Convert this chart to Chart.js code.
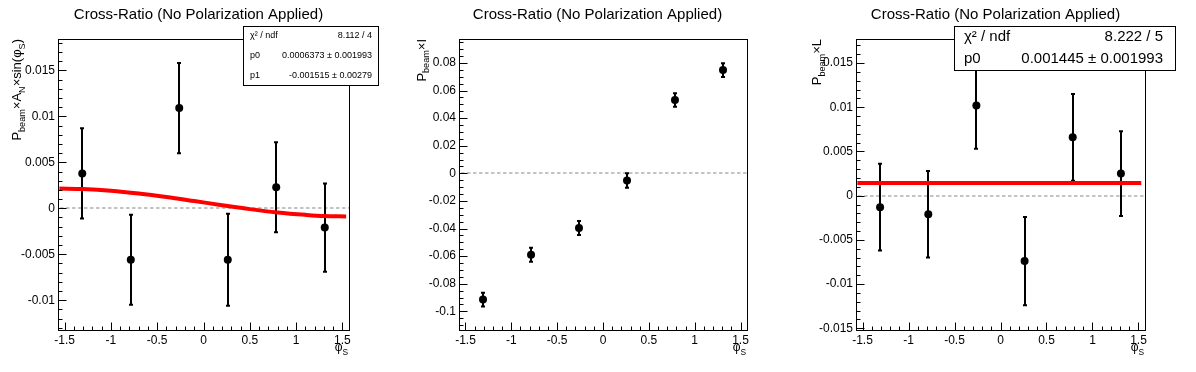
<!DOCTYPE html>
<html>
<head>
<meta charset="utf-8">
<script src="https://cdn.jsdelivr.net/npm/chart.js@4.4.1/dist/chart.umd.min.js"></script>
<style>
  body { margin: 0; background: #fff; }
  #wrap { position: relative; width: 1196px; height: 372px; background: #fff; }
  canvas { position: absolute; top: 0; }
</style>
</head>
<body>
<div id="wrap">
  <canvas id="c1" width="400" height="372" style="left:0"></canvas>
  <canvas id="c2" width="396" height="372" style="left:400px"></canvas>
  <canvas id="c3" width="400" height="372" style="left:796px"></canvas>
</div>
<script>
const FONT = '"Liberation Sans", Arial, sans-serif';

// phi_S bin centres (shared by all three pads)
const phiS = [-1.309, -0.785, -0.262, 0.262, 0.785, 1.309];
const xTicks = [-1.5, -1, -0.5, 0, 0.5, 1, 1.5];
const xTickLabels = ['-1.5', '-1', '-0.5', '0', '0.5', '1', '1.5'];

// pad 1 : P_beam x A_N x sin(phi_S)
const anVals = [0.0038, -0.0056, 0.0109, -0.0056, 0.0023, -0.0021];
const anErrs = [0.0049, 0.0049, 0.0049, 0.0050, 0.0049, 0.0048];
const anFitX = [-1.556, -1.3, -1.0, -0.7, -0.4, -0.1, 0.2, 0.5, 0.8, 1.1, 1.3, 1.54];
const anFitY = [0.00215, 0.00209, 0.00191, 0.00161, 0.00123, 0.00079, 0.00034, -0.00009, -0.00045, -0.00071, -0.00084, -0.00088];
const anYTicks = [-0.01, -0.005, 0, 0.005, 0.01, 0.015];
const anYLabels = ['-0.01', '-0.005', '0', '0.005', '0.01', '0.015'];
const anStats = [['χ² / ndf', '8.112 / 4'], ['p0', '0.0006373 ± 0.001993'], ['p1', '-0.001515 ± 0.00279']];

// pad 2 : P_beam x I
const iVals = [-0.0915, -0.0590, -0.0396, -0.0052, 0.0532, 0.0749];
const iErrs = [0.0050, 0.0050, 0.0050, 0.0052, 0.0049, 0.0050];
const iYTicks = [-0.1, -0.08, -0.06, -0.04, -0.02, 0, 0.02, 0.04, 0.06, 0.08];
const iYLabels = ['-0.1', '-0.08', '-0.06', '-0.04', '-0.02', '0', '0.02', '0.04', '0.06', '0.08'];

// pad 3 : P_beam x L
const lVals = [-0.0013, -0.0021, 0.0102, -0.0074, 0.0066, 0.0025];
const lErrs = [0.0049, 0.0049, 0.0049, 0.0050, 0.0049, 0.0048];
const lFitX = [-1.556, 1.53];
const lFitY = [0.001445, 0.001445];
const lYTicks = [-0.015, -0.01, -0.005, 0, 0.005, 0.01, 0.015];
const lYLabels = ['-0.015', '-0.01', '-0.005', '0', '0.005', '0.01', '0.015'];
const lStats = [['χ² / ndf', '8.222 / 5'], ['p0', '0.001445 ± 0.001993']];

const title = 'Cross-Ratio (No Polarization Applied)';

// draw a string made of normal / subscript pieces, right-aligned at 0
function richWidth(ctx, segs, size) {
  let w = 0;
  segs.forEach(s => {
    ctx.font = (s[1] ? size * 0.7 : size) + 'px ' + FONT;
    w += ctx.measureText(s[0]).width;
  });
  return w;
}
function drawRich(ctx, segs, size) {
  let u = -richWidth(ctx, segs, size);
  segs.forEach(s => {
    ctx.font = (s[1] ? size * 0.7 : size) + 'px ' + FONT;
    ctx.fillText(s[0], u, s[1] ? size * 0.3 : 0);
    u += ctx.measureText(s[0]).width;
  });
}

const padPlugin = {
  id: 'pad',
  beforeDatasetsDraw(chart, args, o) {
    const { ctx, chartArea: a, scales: { x, y } } = chart;
    ctx.save();
    // dashed zero line
    const y0 = Math.round(y.getPixelForValue(0));
    ctx.strokeStyle = '#c4c4c4';
    ctx.lineWidth = 2;
    ctx.setLineDash([3.5, 2.5]);
    ctx.beginPath(); ctx.moveTo(a.left + 2, y0); ctx.lineTo(a.right, y0); ctx.stroke();
    ctx.setLineDash([]);
    // error bars
    ctx.strokeStyle = '#000';
    ctx.lineWidth = 2;
    phiS.forEach((v, i) => {
      const px = Math.round(x.getPixelForValue(v));
      const top = y.getPixelForValue(o.vals[i] + o.errs[i]);
      const bot = y.getPixelForValue(o.vals[i] - o.errs[i]);
      ctx.beginPath();
      ctx.moveTo(px, top); ctx.lineTo(px, bot);
      ctx.moveTo(px - 2, top); ctx.lineTo(px + 2, top);
      ctx.moveTo(px - 2, bot); ctx.lineTo(px + 2, bot);
      ctx.stroke();
    });
    ctx.restore();
  },
  afterDraw(chart, args, o) {
    const { ctx, chartArea: a, scales: { x, y } } = chart;
    ctx.save();
    ctx.strokeStyle = '#000';
    ctx.fillStyle = '#000';
    // frame
    ctx.lineWidth = 1;
    ctx.strokeRect(Math.round(a.left) + 0.5, Math.round(a.top) + 0.5,
      Math.round(a.right - a.left), Math.round(a.bottom - a.top));
    // ticks (inside frame, bottom + left only)
    const bY = Math.round(a.bottom) + 0.5, lX = Math.round(a.left) + 0.5;
    ctx.beginPath();
    for (let k = Math.ceil(x.min / 0.1 - 1e-6); k * 0.1 <= x.max; k++) {
      const px = Math.round(x.getPixelForValue(k * 0.1)) + 0.5;
      const len = (k % 5 === 0) ? 8 : 4;
      ctx.moveTo(px, bY); ctx.lineTo(px, bY - len);
    }
    const st = o.minor;
    for (let k = Math.ceil(y.min / st - 1e-6); k * st <= y.max; k++) {
      const py = Math.round(y.getPixelForValue(k * st)) + 0.5;
      const len = (k % o.ndiv === 0) ? 8 : 4;
      ctx.moveTo(lX, py); ctx.lineTo(lX + len, py);
    }
    ctx.stroke();
    // title
    ctx.font = '15px ' + FONT;
    ctx.textAlign = 'center';
    ctx.textBaseline = 'alphabetic';
    ctx.fillText(title, o.titleX, 19);
    // x axis title
    ctx.textAlign = 'left';
    ctx.save();
    ctx.translate(a.right - 1, 351);
    drawRich(ctx, [['φ'], ['S', 1]], 12);
    ctx.restore();
    // y axis title
    ctx.save();
    ctx.translate(o.yTitleX, a.top);
    ctx.rotate(-Math.PI / 2);
    drawRich(ctx, o.yTitle, 13);
    ctx.restore();
    // stats box
    if (o.stats) {
      const [bx0, by0, bx1, by1] = o.box;
      ctx.fillStyle = '#fff';
      ctx.fillRect(bx0, by0, bx1 - bx0, by1 - by0);
      ctx.strokeRect(bx0 + 0.5, by0 + 0.5, bx1 - bx0, by1 - by0);
      ctx.fillStyle = '#000';
      ctx.font = o.boxFont + 'px ' + FONT;
      ctx.textBaseline = 'middle';
      const rh = (by1 - by0) / o.stats.length;
      o.stats.forEach((r, i) => {
        const cy = by0 + rh * (i + 0.5);
        ctx.textAlign = 'left';
        ctx.fillText(r[0], bx0 + o.boxPad[0], cy);
        ctx.textAlign = 'right';
        ctx.fillText(r[1], bx1 - o.boxPad[1], cy);
      });
    }
    ctx.restore();
  }
};

function makePad(id, cfg) {
  const el = document.getElementById(id);
  const W = el.width;
  const datasets = [{
    data: phiS.map((v, i) => ({ x: v, y: cfg.vals[i] })),
    backgroundColor: '#000',
    borderColor: '#000',
    borderWidth: 0,
    pointRadius: 4,
    order: 1
  }];
  if (cfg.fitX) {
    datasets.push({
      type: 'line',
      data: cfg.fitX.map((v, i) => ({ x: v, y: cfg.fitY[i] })),
      borderColor: '#ff0000',
      borderWidth: 4,
      pointRadius: 0,
      tension: 0.4,
      cubicInterpolationMode: 'monotone',
      order: 0
    });
  }
  const tickFont = { family: FONT, size: 12 };
  return new Chart(el, {
    type: 'scatter',
    data: { datasets },
    options: {
      responsive: false,
      animation: false,
      devicePixelRatio: 1,
      layout: { padding: { left: 0, top: cfg.frame[1], right: W - cfg.frame[2], bottom: 0 } },
      plugins: { legend: { display: false }, tooltip: { enabled: false }, pad: cfg },
      scales: {
        x: {
          type: 'linear', min: -1.5708, max: 1.5708,
          grid: { display: false, drawTicks: false }, border: { display: false },
          afterBuildTicks: s => { s.ticks = xTicks.map(v => ({ value: v })); },
          afterFit: s => { s.height = 372 - cfg.frame[3]; },
          ticks: { padding: 3, color: '#000', font: tickFont, maxRotation: 0, autoSkip: false,
            callback: (v, i) => xTickLabels[i] }
        },
        y: {
          type: 'linear', min: cfg.yRange[0], max: cfg.yRange[1],
          grid: { display: false, drawTicks: false }, border: { display: false },
          afterBuildTicks: s => { s.ticks = cfg.yTicks.map(v => ({ value: v })); },
          afterFit: s => { s.width = cfg.frame[0]; },
          ticks: { padding: 3, color: '#000', font: tickFont, autoSkip: false,
            callback: (v, i) => cfg.yLabels[i] }
        }
      }
    },
    plugins: [padPlugin]
  });
}

makePad('c1', {
  frame: [58, 39, 349, 330], yRange: [-0.01324, 0.01842],
  vals: anVals, errs: anErrs, fitX: anFitX, fitY: anFitY,
  yTicks: anYTicks, yLabels: anYLabels, minor: 0.001, ndiv: 5,
  titleX: 198.5, yTitleX: 21,
  yTitle: [['P'], ['beam', 1], ['×A'], ['N', 1], ['×sin(φ'], ['S', 1], [')']],
  stats: anStats, box: [243, 26, 378, 85], boxFont: 9, boxPad: [7, 6]
});

makePad('c2', {
  frame: [59, 39, 347, 330], yRange: [-0.11355, 0.0974],
  vals: iVals, errs: iErrs,
  yTicks: iYTicks, yLabels: iYLabels, minor: 0.005, ndiv: 4,
  titleX: 197.5, yTitleX: 25.5,
  yTitle: [['P'], ['beam', 1], ['×I']]
});

makePad('c3', {
  frame: [60, 39, 349, 330], yRange: [-0.01519, 0.01772],
  vals: lVals, errs: lErrs, fitX: lFitX, fitY: lFitY,
  yTicks: lYTicks, yLabels: lYLabels, minor: 0.001, ndiv: 5,
  titleX: 199.5, yTitleX: 25,
  yTitle: [['P'], ['beam', 1], ['×L']],
  stats: lStats, box: [158, 26, 379, 70], boxFont: 15, boxPad: [10, 12]
});
</script>
</body>
</html>
